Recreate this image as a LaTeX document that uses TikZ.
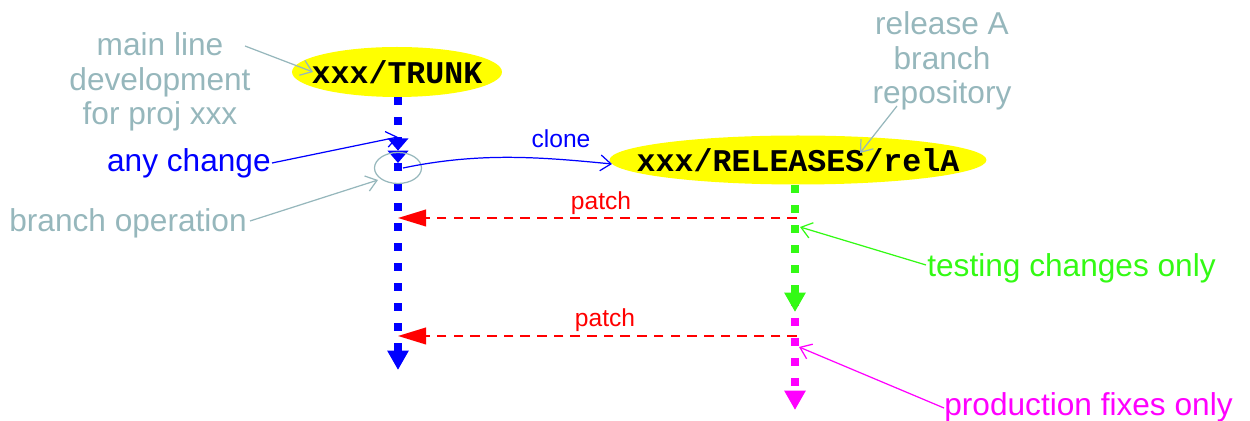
\documentclass[tikz,border=0pt]{standalone}
\usepackage{fontspec}
\setmainfont{Liberation Sans}
\newfontfamily\codefont{Liberation Mono}
\usetikzlibrary{arrows.meta,shapes.geometric,backgrounds}

\definecolor{notegray}{RGB}{150,183,188}
\definecolor{testgreen}{RGB}{51,250,20}
\definecolor{prodpink}{RGB}{255,0,255}
\definecolor{repoyellow}{RGB}{255,255,0}

\tikzset{
  repo/.style={inner sep=0pt,
    font=\codefont\bfseries\fontsize{18}{20}\selectfont},
  note/.style={inner sep=0pt, font=\fontsize{18}{19.5}\selectfont},
  small/.style={inner sep=0pt, font=\fontsize{14}{16}\selectfont},
  lane/.style={line width=4.5pt, dash pattern=on 4.4pt off 7pt},
  lanetip/.style={-{Triangle[length=11pt,width=11.5pt]}},
  patcharrow/.style={red, line width=1.1pt, dash pattern=on 5.5pt off 4pt,
    -{Triangle[length=16pt,width=9.5pt]}},
  pointer/.style={line width=0.7pt, -{Straight Barb[length=6pt,width=9pt]}},
}

\begin{document}
\begin{tikzpicture}[x=0.02cm, y=-0.02cm]
  \useasboundingbox (0,0) rectangle (1250,421);

  % repositories
  \node[repo] (trunk) at (397,72) {xxx/TRUNK};
  \node[repo] (rel) at (798,160) {xxx/RELEASES/relA};
  \begin{scope}[on background layer]
    \fill[repoyellow] (trunk.center) ellipse [x radius=2.1cm, y radius=0.5cm];
    \fill[repoyellow] (rel.center) ellipse [x radius=3.77cm, y radius=0.49cm];
  \end{scope}

  % lane end points
  \coordinate (tA) at (398,97);
  \coordinate (tB) at (398,163);
  \coordinate (tC) at (398,370);
  \coordinate (gA) at (795,185);
  \coordinate (gB) at (795,312);
  \coordinate (mA) at (795,298);
  \coordinate (mB) at (795,410);

  % trunk lane
  \draw[blue, lane, -{Triangle[length=7pt,width=11.5pt] Triangle[length=7pt,width=11.5pt]}] (tA) -- (tB);
  \draw[blue, lane, lanetip] (tB) -- (tC);

  % release lane: testing then production
  \draw[prodpink, lane, lanetip] (mA) -- (mB);
  \draw[testgreen, lane, lanetip] (gA) -- (gB);

  % branch point
  \node[draw=notegray, line width=0.7pt, ellipse, minimum width=0.94cm, minimum height=0.62cm, inner sep=0pt] (bp) at (398,168) {};

  % clone
  \coordinate (cl) at (403,168);
  \coordinate (relW) at (612,164);
  \draw[blue, pointer] (cl) .. controls (480,152) and (540,157) .. (relW);
  \node[small, blue] (clonelbl) at (561,139) {clone};

  % patches back to trunk
  \coordinate (p1a) at (797,218);
  \coordinate (p1b) at (398,218);
  \coordinate (p2a) at (797,336);
  \coordinate (p2b) at (398,336);
  \draw[patcharrow] (p1a) -- (p1b);
  \draw[patcharrow] (p2a) -- (p2b);
  \node[small, red] (patch1) at (601,203) {patch};
  \node[small, red] (patch2) at (605,320) {patch};

  % notes
  \node[note, notegray, align=center] (mainnote) at (160,82) {main line\\development\\for proj xxx};
  \node[note, notegray, align=center] (relnote) at (942,61) {release A\\branch\\repository};
  \node[note, blue, anchor=base east] (anychg) at (271,172) {any change};
  \node[note, notegray, anchor=base west] (brop) at (9,232) {branch operation};
  \node[note, testgreen, anchor=base west] (testing) at (927,277) {testing changes only};
  \node[note, prodpink, anchor=base west] (prod) at (944,416) {production fixes only};

  % pointers from notes
  \coordinate (mainT) at (245,46);
  \coordinate (mainH) at (313,72);
  \draw[notegray, pointer] (mainT) -- (mainH);

  \coordinate (anyT) at (272,163);
  \coordinate (anyH) at (398,137);
  \draw[blue, pointer] (anyT) -- (anyH);

  \coordinate (brT) at (250,221);
  \coordinate (brH) at (378,180);
  \draw[notegray, pointer] (brT) -- (brH);

  \coordinate (relT) at (897,106);
  \coordinate (relH) at (860,153);
  \draw[notegray, pointer] (relT) -- (relH);

  \coordinate (testT) at (926,265);
  \coordinate (testH) at (800,227);
  \draw[testgreen, pointer] (testT) -- (testH);

  \coordinate (prodT) at (944,408);
  \coordinate (prodH) at (799,347);
  \draw[prodpink, pointer] (prodT) -- (prodH);
\end{tikzpicture}
\end{document}
